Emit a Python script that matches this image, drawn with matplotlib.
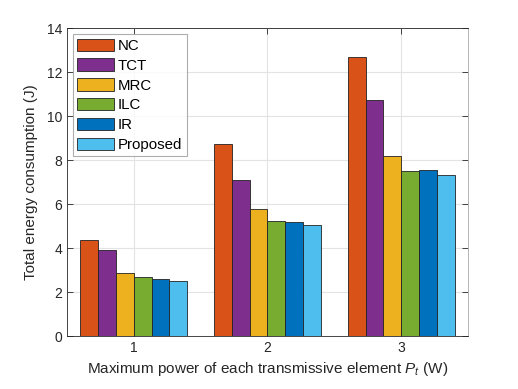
import numpy as np
import matplotlib
matplotlib.use("Agg")
import matplotlib.pyplot as plt
from matplotlib.patches import Patch

plt.rcParams.update({
    "font.family": ["Liberation Sans", "DejaVu Sans"],
    "mathtext.fontset": "custom",
    "mathtext.it": "Liberation Sans:italic",
    "mathtext.rm": "Liberation Sans",
})

powers = [1, 2, 3]
methods = ["NC", "TCT", "MRC", "ILC", "IR", "Proposed"]
colors = ["#D95319", "#7E2F8E", "#EDB120", "#77AC30", "#0072BD", "#4DBEEE"]
nc = [4.36, 8.74, 12.66]
tct = [3.91, 7.11, 10.72]
mrc = [2.87, 5.76, 8.18]
ilc = [2.69, 5.24, 7.51]
ir = [2.60, 5.18, 7.54]
proposed = [2.52, 5.03, 7.31]
series = [nc, tct, mrc, ilc, ir, proposed]

fig = plt.figure(figsize=(5.18, 3.89), dpi=100)
ax = fig.add_axes([0.1293, 0.1362, 0.9035 - 0.1293, 0.928 - 0.1362])

n = len(series)
bw = 0.8 / n
x = np.array(powers, dtype=float)
for i, (vals, c) in enumerate(zip(series, colors)):
    ax.bar(x - 0.4 + bw * (i + 0.5), vals, width=bw, color=c,
           edgecolor="#222222", linewidth=0.6, zorder=3)

ax.set_xlim(0.5, 3.5)
ax.set_ylim(0, 14)
ax.set_xticks(powers)
ax.set_yticks(range(0, 15, 2))
ax.grid(True, color="#e3e3e3", linewidth=0.8, zorder=0)
ax.set_axisbelow(True)
ax.tick_params(direction="in", top=True, right=True, labelsize=10,
               colors="#262626", length=4, width=0.6)
for s in ax.spines.values():
    s.set_color("#262626")
    s.set_linewidth(0.6)
ax.spines["right"].set_color("#aaaaaa")

ax.set_xlabel("Maximum power of each transmissive element $P_t$ (W)",
              fontsize=11, color="#262626", labelpad=4)
ax.set_ylabel("Total energy consumption (J)", fontsize=11, color="#262626",
              labelpad=6)

handles = [Patch(facecolor=c, edgecolor="#222222", linewidth=0.6)
           for c in colors]
leg = ax.legend(handles, methods, loc="upper left", fontsize=10.8,
                frameon=True, fancybox=False, edgecolor="#999999",
                handlelength=2.45, handleheight=0.9, handletextpad=0.25,
                labelspacing=0.36, borderpad=0.3, borderaxespad=0.4)
leg.get_frame().set_linewidth(0.8)

fig.savefig("out.png", dpi=100)
